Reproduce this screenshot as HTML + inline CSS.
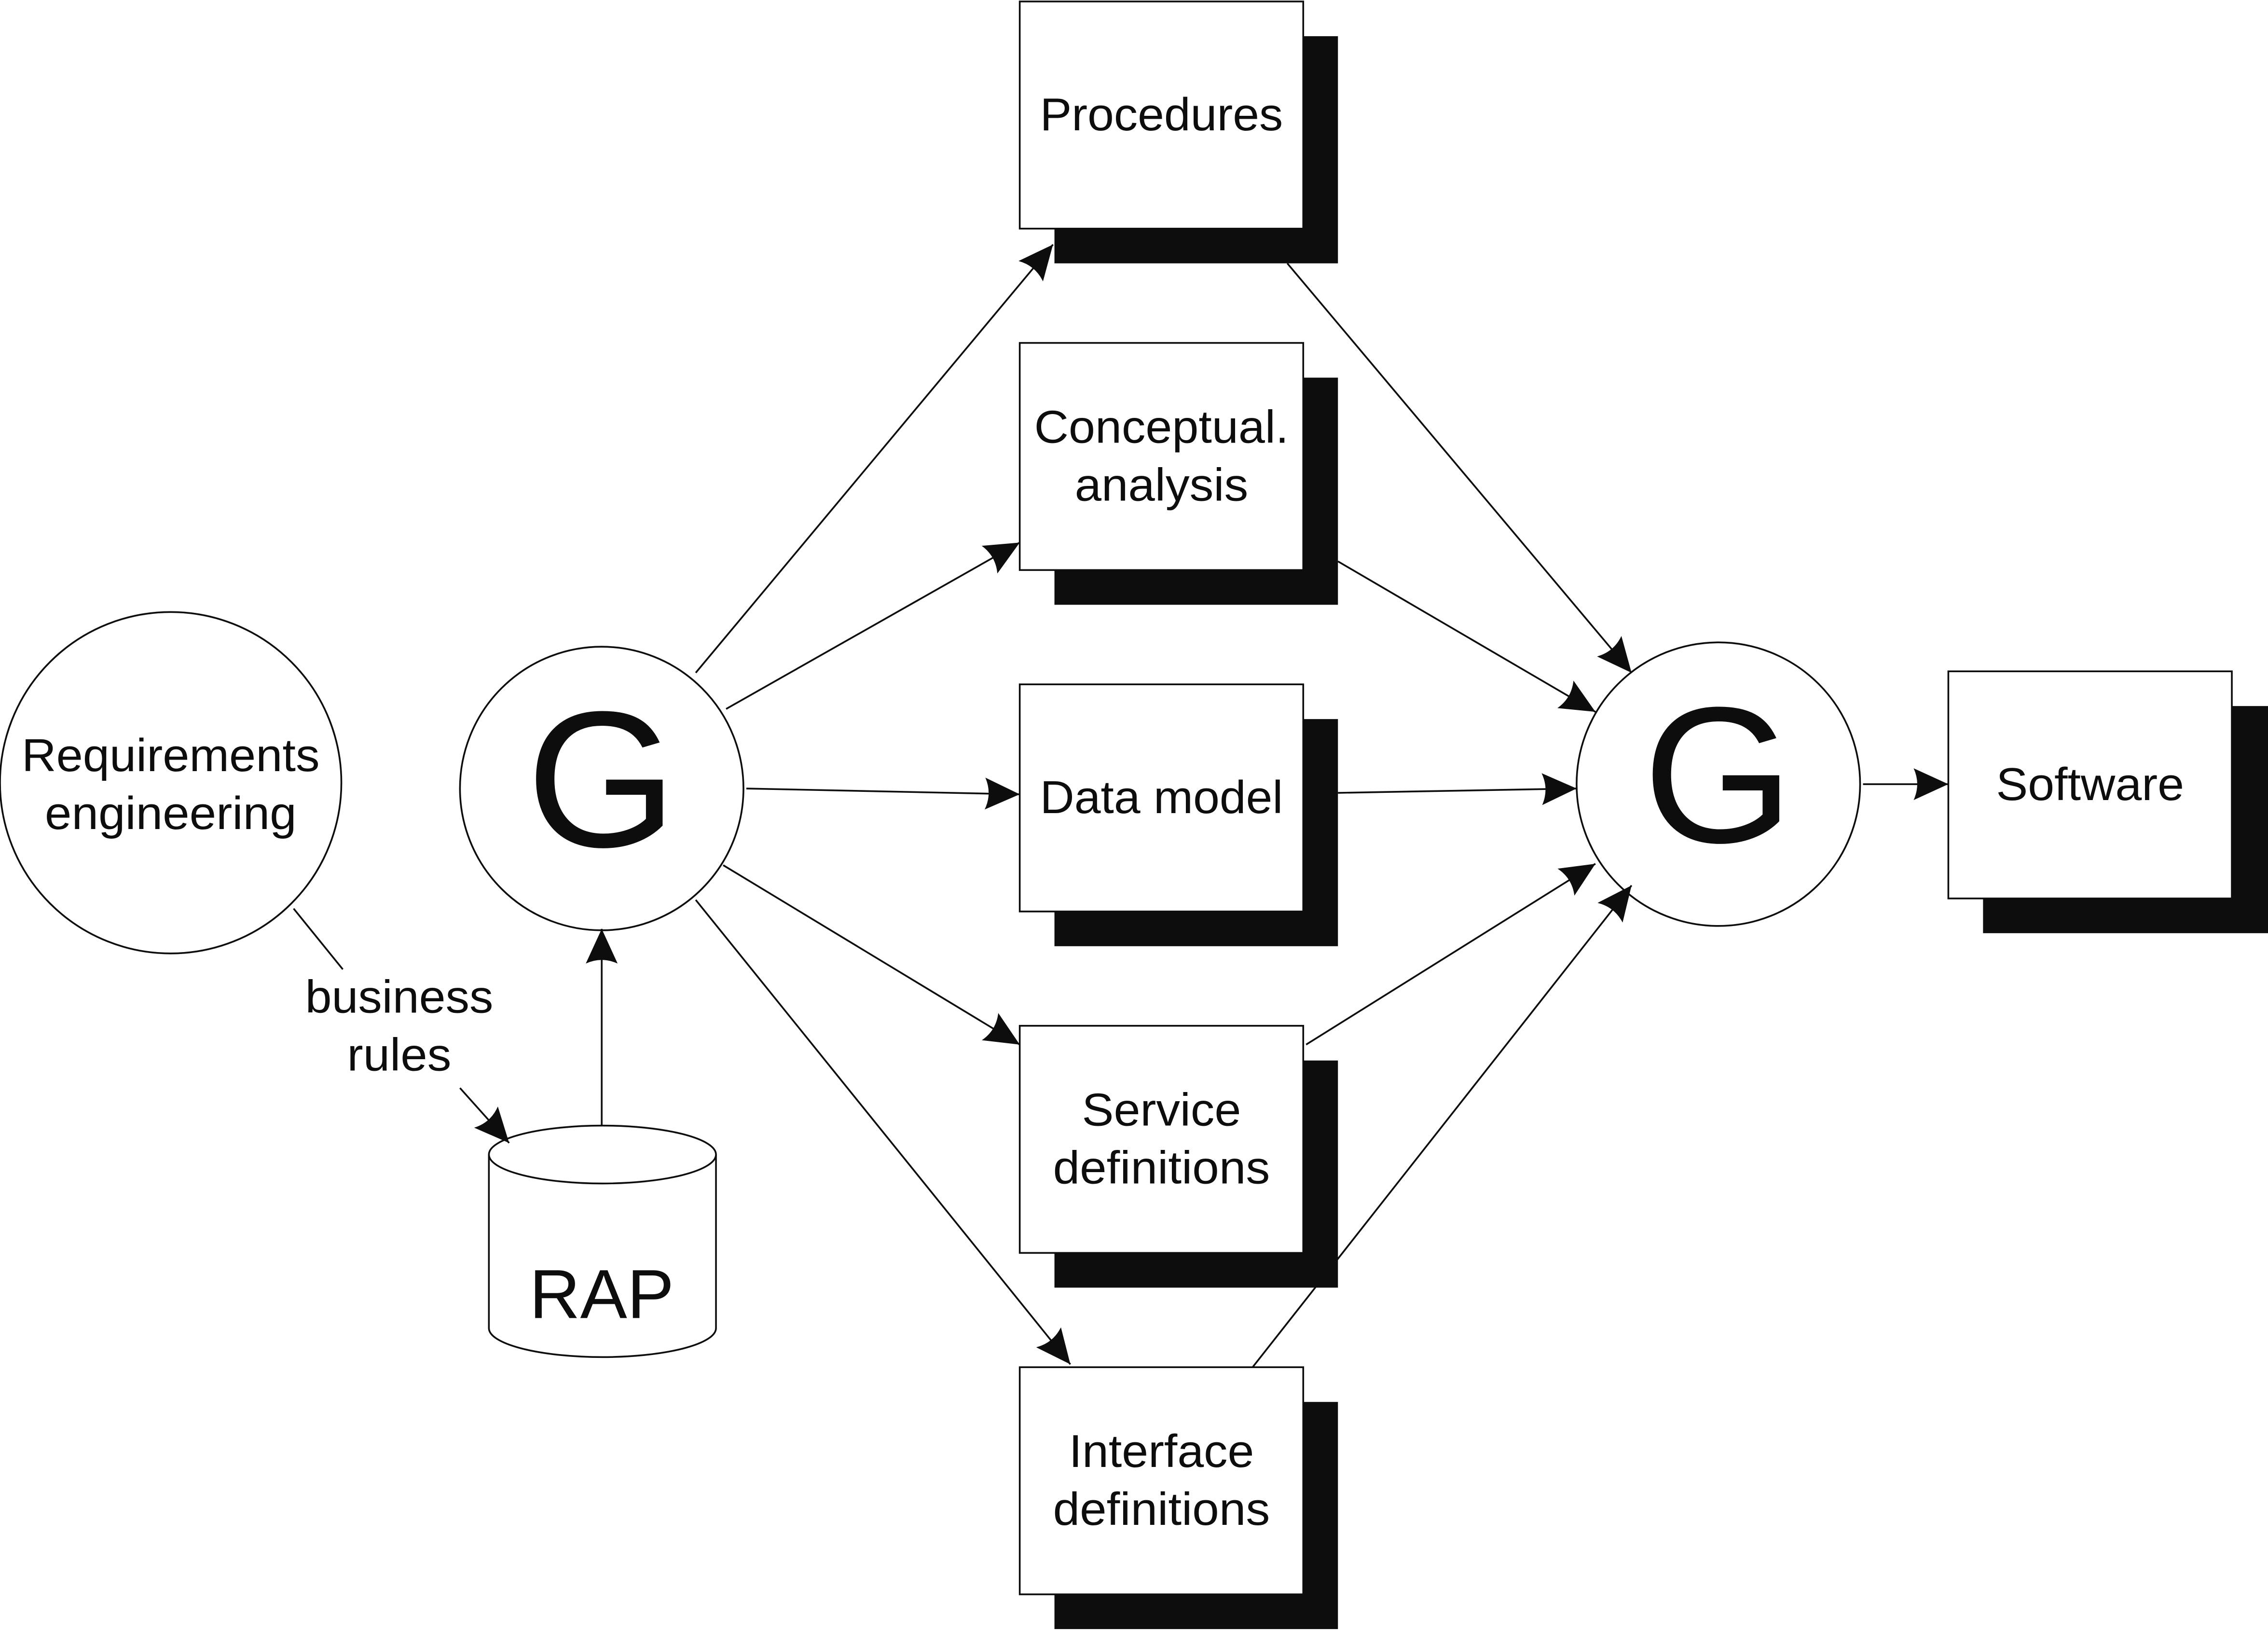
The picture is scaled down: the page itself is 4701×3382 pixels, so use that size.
<!DOCTYPE html>
<html><head><meta charset="utf-8"><style>html,body{margin:0;padding:0;background:#fff}svg{display:block}</style></head>
<body>
<svg xmlns="http://www.w3.org/2000/svg" width="4701" height="3382" viewBox="0 0 1568 1128">
<defs>
<marker id="a" markerUnits="userSpaceOnUse" markerWidth="30" markerHeight="24" refX="24" refY="11" orient="auto">
<path d="M0,0 L24,11 L0,22 Q5,11 0,0 Z" fill="#0d0d0d"/>
</marker>
</defs>
<rect width="1568" height="1128" fill="#fff"/>
<g fill="#0d0d0d">
<rect x="729" y="25" width="196" height="157"/>
<rect x="729" y="261" width="196" height="157"/>
<rect x="729" y="497" width="196" height="157"/>
<rect x="729" y="733" width="196" height="157"/>
<rect x="729" y="969" width="196" height="157"/>
<rect x="1371" y="488" width="197" height="157"/>
</g>
<g fill="#fff" stroke="#0d0d0d" stroke-width="1.2">
<rect x="705" y="1" width="196" height="157"/>
<rect x="705" y="237" width="196" height="157"/>
<rect x="705" y="473" width="196" height="157"/>
<rect x="705" y="709" width="196" height="157"/>
<rect x="705" y="945" width="196" height="157"/>
<rect x="1347" y="464" width="196" height="157"/>
<circle cx="118" cy="541" r="118"/>
<circle cx="416" cy="545" r="98"/>
<circle cx="1188" cy="542" r="98"/>
<path d="M338,798 L338,918 A78.5,20 0 0 0 495,918 L495,798"/>
<ellipse cx="416.5" cy="798" rx="78.5" ry="20"/>
</g>
<g stroke="#0d0d0d" stroke-width="1.2" fill="none">
<line x1="203" y1="628" x2="237" y2="670"/>
<line x1="318" y1="752" x2="352" y2="790" marker-end="url(#a)"/>
<line x1="416" y1="778" x2="416" y2="642" marker-end="url(#a)"/>
<line x1="481" y1="465" x2="728" y2="169" marker-end="url(#a)"/>
<line x1="502" y1="490" x2="705" y2="375" marker-end="url(#a)"/>
<line x1="516" y1="545" x2="705" y2="549" marker-end="url(#a)"/>
<line x1="500" y1="598" x2="705" y2="722" marker-end="url(#a)"/>
<line x1="481" y1="622" x2="740" y2="943" marker-end="url(#a)"/>
<line x1="890" y1="182" x2="1128" y2="465" marker-end="url(#a)"/>
<line x1="925" y1="388" x2="1103" y2="492" marker-end="url(#a)"/>
<line x1="925" y1="548" x2="1090" y2="545" marker-end="url(#a)"/>
<line x1="903" y1="722" x2="1103" y2="597" marker-end="url(#a)"/>
<line x1="866" y1="945" x2="1128" y2="612" marker-end="url(#a)"/>
<line x1="1288" y1="542" x2="1347" y2="542" marker-end="url(#a)"/>
</g>
<g font-family="Liberation Sans, Arial, sans-serif" fill="#0d0d0d" text-anchor="middle" font-size="32">
<text x="803" y="90" textLength="168" lengthAdjust="spacingAndGlyphs">Procedures</text>
<text x="803" y="306" textLength="176" lengthAdjust="spacingAndGlyphs">Conceptual.</text>
<text x="803" y="346" textLength="120" lengthAdjust="spacingAndGlyphs">analysis</text>
<text x="803" y="562" textLength="168" lengthAdjust="spacingAndGlyphs">Data model</text>
<text x="803" y="778" textLength="110" lengthAdjust="spacingAndGlyphs">Service</text>
<text x="803" y="818" textLength="150" lengthAdjust="spacingAndGlyphs">definitions</text>
<text x="803" y="1014" textLength="128" lengthAdjust="spacingAndGlyphs">Interface</text>
<text x="803" y="1054" textLength="150" lengthAdjust="spacingAndGlyphs">definitions</text>
<text x="1445" y="553" textLength="130" lengthAdjust="spacingAndGlyphs">Software</text>
<text x="118" y="533" textLength="206" lengthAdjust="spacingAndGlyphs">Requirements</text>
<text x="118" y="573" textLength="174" lengthAdjust="spacingAndGlyphs">engineering</text>
<text x="276" y="700" textLength="130" lengthAdjust="spacingAndGlyphs">business</text>
<text x="276" y="740" textLength="72" lengthAdjust="spacingAndGlyphs">rules</text>
<text x="416" y="911" font-size="48" textLength="100" lengthAdjust="spacingAndGlyphs">RAP</text>
<text x="416" y="585" font-size="134">G</text>
<text x="1188" y="582" font-size="134">G</text>
</g>
</svg>
</body></html>
